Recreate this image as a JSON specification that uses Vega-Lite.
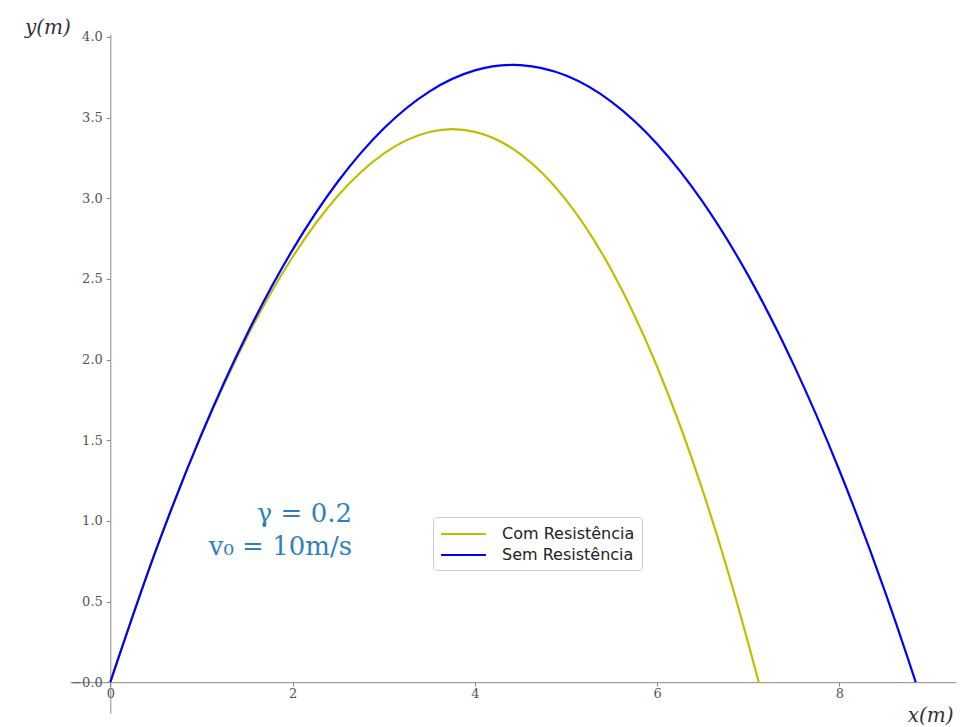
{
  "$schema": "https://vega.github.io/schema/vega-lite/v6.json",
  "width": 886,
  "height": 679,
  "autosize": {"type": "none"},
  "padding": {"left": 70, "top": 34, "right": 10, "bottom": 14},
  "background": "white",
  "config": {"view": {"stroke": null}, "axis": {"grid": false}},
  "datasets": {
    "curves": [
      {"series": "Com Resistência", "x": 0, "y": 0},
      {"series": "Com Resistência", "x": 0.5, "y": 0.8164},
      {"series": "Com Resistência", "x": 1.0, "y": 1.5307},
      {"series": "Com Resistência", "x": 1.5, "y": 2.1386},
      {"series": "Com Resistência", "x": 2.0, "y": 2.6356},
      {"series": "Com Resistência", "x": 2.5, "y": 3.0168},
      {"series": "Com Resistência", "x": 3.0, "y": 3.2770},
      {"series": "Com Resistência", "x": 3.5, "y": 3.4106},
      {"series": "Com Resistência", "x": 3.755, "y": 3.428},
      {"series": "Com Resistência", "x": 4.0, "y": 3.4116},
      {"series": "Com Resistência", "x": 4.5, "y": 3.2738},
      {"series": "Com Resistência", "x": 5.0, "y": 2.9901},
      {"series": "Com Resistência", "x": 5.5, "y": 2.5532},
      {"series": "Com Resistência", "x": 6.0, "y": 1.9553},
      {"series": "Com Resistência", "x": 6.5, "y": 1.1876},
      {"series": "Com Resistência", "x": 6.75, "y": 0.7372},
      {"series": "Com Resistência", "x": 7.0, "y": 0.2409},
      {"series": "Com Resistência", "x": 7.115, "y": 0},
      {"series": "Sem Resistência", "x": 0, "y": 0},
      {"series": "Sem Resistência", "x": 0.5, "y": 0.8170},
      {"series": "Sem Resistência", "x": 1.0, "y": 1.5361},
      {"series": "Sem Resistência", "x": 1.5, "y": 2.1571},
      {"series": "Sem Resistência", "x": 2.0, "y": 2.6801},
      {"series": "Sem Resistência", "x": 2.5, "y": 3.1051},
      {"series": "Sem Resistência", "x": 3.0, "y": 3.4322},
      {"series": "Sem Resistência", "x": 3.5, "y": 3.6612},
      {"series": "Sem Resistência", "x": 4.0, "y": 3.7922},
      {"series": "Sem Resistência", "x": 4.419, "y": 3.8265},
      {"series": "Sem Resistência", "x": 4.5, "y": 3.8252},
      {"series": "Sem Resistência", "x": 5.0, "y": 3.7603},
      {"series": "Sem Resistência", "x": 5.5, "y": 3.5973},
      {"series": "Sem Resistência", "x": 6.0, "y": 3.3363},
      {"series": "Sem Resistência", "x": 6.5, "y": 2.9773},
      {"series": "Sem Resistência", "x": 7.0, "y": 2.5204},
      {"series": "Sem Resistência", "x": 7.5, "y": 1.9654},
      {"series": "Sem Resistência", "x": 8.0, "y": 1.3124},
      {"series": "Sem Resistência", "x": 8.5, "y": 0.5614},
      {"series": "Sem Resistência", "x": 8.75, "y": 0.1492},
      {"series": "Sem Resistência", "x": 8.837, "y": 0}
    ]
  },
  "layer": [
    {
      "data": {"name": "curves"},
      "mark": {"type": "line", "strokeWidth": 2.2, "interpolate": "monotone"},
      "encoding": {
        "x": {
          "field": "x",
          "type": "quantitative",
          "scale": {"domain": [-0.442, 9.279], "nice": false, "zero": false},
          "axis": {
            "values": [0, 2, 4, 6, 8],
            "format": "d",
            "offset": -30.8,
            "title": "x(m)",
            "titleX": 883,
            "titleY": 33,
            "titleAlign": "right",
            "titleBaseline": "middle",
            "titleAngle": 0,
            "titleFont": "DejaVu Serif",
            "titleFontStyle": "italic",
            "titleFontWeight": "normal",
            "titleFontSize": 20,
            "titleColor": "#333333",
            "labelFont": "DejaVu Serif",
            "labelFontSize": 13,
            "labelColor": "#555555",
            "labelPadding": 1,
            "tickSize": 4,
            "tickColor": "#888888",
            "domainColor": "#888888",
            "labelFlush": false,
            "labelOverlap": false
          }
        },
        "y": {
          "field": "y",
          "type": "quantitative",
          "scale": {"domain": [-0.191, 4.018], "nice": false, "zero": false},
          "axis": {
            "values": [0, 0.5, 1, 1.5, 2, 2.5, 3, 3.5, 4],
            "labelExpr": "datum.value == 0 ? '−0.0' : format(datum.value, '.1f')",
            "offset": -40.3,
            "title": "y(m)",
            "titleX": -40,
            "titleY": -7,
            "titleAlign": "right",
            "titleBaseline": "middle",
            "titleAngle": 0,
            "titleFont": "DejaVu Serif",
            "titleFontStyle": "italic",
            "titleFontWeight": "normal",
            "titleFontSize": 20,
            "titleColor": "#333333",
            "labelFont": "DejaVu Serif",
            "labelFontSize": 13,
            "labelColor": "#555555",
            "labelPadding": 4,
            "tickSize": 4,
            "tickColor": "#888888",
            "domainColor": "#888888",
            "labelFlush": false,
            "labelOverlap": false
          }
        },
        "color": {
          "field": "series",
          "type": "nominal",
          "scale": {"domain": ["Com Resistência", "Sem Resistência"], "range": ["#bfbf00", "#0000ff"]},
          "legend": {
            "orient": "none",
            "legendX": 363,
            "legendY": 483,
            "title": null,
            "symbolType": "M-1,0H4",
            "symbolSize": 324,
            "symbolStrokeWidth": 2,
            "labelFont": "DejaVu Sans",
            "labelFontSize": 16,
            "labelColor": "#222222",
            "labelOffset": 42,
            "padding": 7,
            "rowPadding": 3,
            "fillColor": "white",
            "strokeColor": "#cccccc",
            "cornerRadius": 3
          }
        }
      }
    },
    {
      "data": {"values": [{"label": "γ = 0.2"}]},
      "mark": {"type": "text", "align": "right", "baseline": "middle", "font": "DejaVu Serif", "fontSize": 26, "color": "#2f7fc0"},
      "encoding": {
        "x": {"datum": 2.652, "type": "quantitative"},
        "y": {"datum": 1.04, "type": "quantitative"},
        "text": {"field": "label"}
      }
    },
    {
      "data": {"values": [{"label": "v₀ = 10m/s"}]},
      "mark": {"type": "text", "align": "right", "baseline": "middle", "font": "DejaVu Serif", "fontSize": 26, "color": "#2f7fc0"},
      "encoding": {
        "x": {"datum": 2.652, "type": "quantitative"},
        "y": {"datum": 0.835, "type": "quantitative"},
        "text": {"field": "label"}
      }
    }
  ]
}
